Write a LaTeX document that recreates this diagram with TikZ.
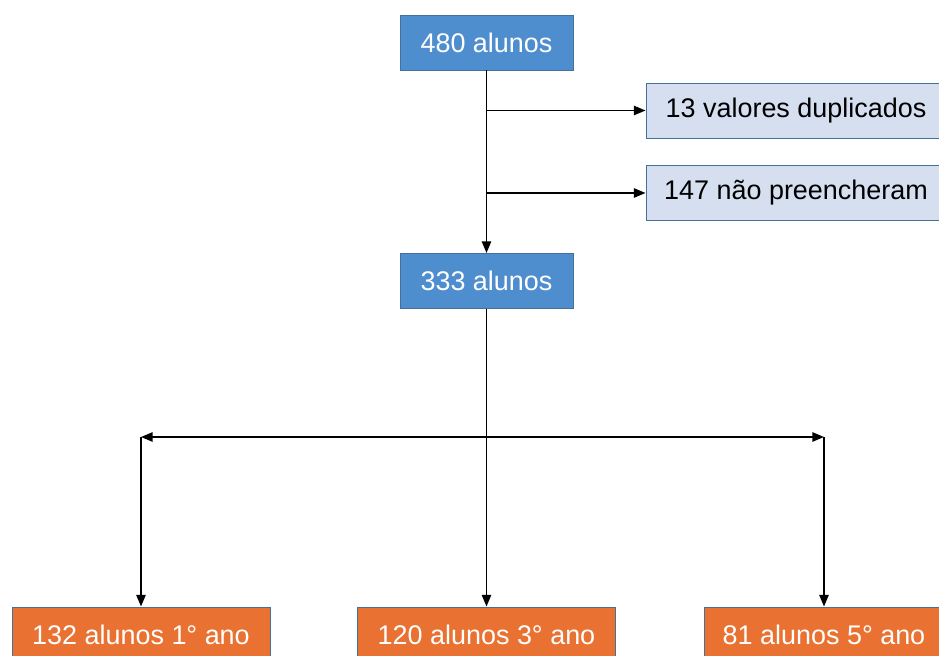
\documentclass[tikz,border=0pt]{standalone}
\usepackage{fontspec}
\setmainfont{Liberation Sans}
\usetikzlibrary{arrows.meta}
\definecolor{boxblue}{RGB}{79,142,206}
\definecolor{boxlight}{RGB}{214,223,240}
\definecolor{boxorange}{RGB}{233,113,50}
\definecolor{boxedge}{RGB}{65,113,156}
\tikzset{
	box/.style={draw=boxedge, line width=0.8pt, inner sep=0pt, minimum height=1.65cm, font=\fontsize{23}{27}\selectfont},
	mainbox/.style={box, fill=boxblue, text=white, minimum width=5.19cm},
	outbox/.style={box, fill=boxlight, text=black, minimum width=9cm},
	yearbox/.style={box, fill=boxorange, text=white, minimum width=7.74cm},
	link/.style={line width=1.4pt, -{Triangle[length=10pt,width=8pt]}}
}

\begin{document}
\begin{tikzpicture}[x=0.03cm, y=-0.03cm]
			%%%%% START %%%%%
			\useasboundingbox (0, 0) rectangle (939, 656);
			
			\node[mainbox] (b480) at (486.5, 42.5) {480 alunos};
			\node[outbox] (dup) at (796, 110.5) {13 valores duplicados};
			\node[outbox] (nao) at (796, 193) {147 não preencheram};
			\node[mainbox] (b333) at (486.5, 281) {333 alunos};
			
			\node[yearbox] (ano1) at (141, 634.5) {132 alunos 1° ano};
			\node[yearbox] (ano3) at (486.5, 634.5) {120 alunos 3° ano};
			\node[yearbox, minimum width=7.2cm] (ano5) at (824, 634.5) {81 alunos 5° ano};
			
			\draw[link] (b480) -- (b333);
			\coordinate (j1) at (b480.south |- dup.west);
			\coordinate (j2) at (b480.south |- nao.west);
			\draw[link] (j1) -- (dup.west);
			\draw[link] (j2) -- (nao.west);
			
			\coordinate (split) at (486.5, 437);
			\coordinate (left) at (ano1.north |- split);
			\coordinate (right) at (ano5.north |- split);
			\draw[link] (b333) -- (ano3);
			\draw[link] (split) -- (left);
			\draw[link] (split) -- (right);
			\draw[link] (left) -- (ano1);
			\draw[link] (right) -- (ano5);
			
			%%%%% END %%%%%
\end{tikzpicture}
\end{document}
